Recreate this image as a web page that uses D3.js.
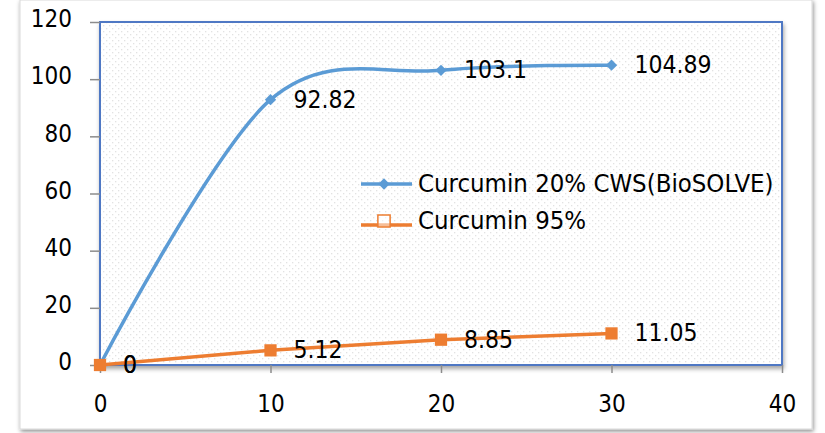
<!DOCTYPE html>
<html lang="en">
<head>
	<meta charset="UTF-8">
	<title>Curcumin chart</title>
	<script src="https://d3js.org/d3.v7.min.js"></script>
	<style>
		body{
			margin: 0;
			background-color: #ffffff;
		}
		text{
			font-family: "DejaVu Sans Condensed", "DejaVu Sans", sans-serif;
			font-stretch: condensed;
			fill: #000;
		}
		.axis path{
			display: none;
		}
		.axis line{
			stroke: #8c8c8c;
			stroke-width: 1.5;
		}
		.axis text{
			font-size: 24px;
		}
		.label{
			font-size: 24.5px;
		}
		.legend text{
			font-size: 25.5px;
		}
	</style>
</head>
<body>
<script type="text/javascript">
	// data
	var xValues = [0, 10, 20, 30];
	var curcuminCWS = [0, 92.82, 103.1, 104.89];
	var curcumin95 = [0, 5.12, 8.85, 11.05];
	var seriesNames = ['Curcumin 20% CWS(BioSOLVE)', 'Curcumin 95%'];
	var xTicks = [0, 10, 20, 30, 40];
	var yTicks = [0, 20, 40, 60, 80, 100, 120];

	var W = 825, H = 433;
	var margin = {top: 22, bottom: 68, left: 100, right: 43};
	var width = W - margin.left - margin.right,
		height = H - margin.top - margin.bottom;

	var svg = d3.select('body').append('svg')
		.attr('width', W)
		.attr('height', H);

	var defs = svg.append('defs');
	var f = defs.append('filter').attr('id', 'shadow')
		.attr('x', '-5%').attr('y', '-5%').attr('width', '110%').attr('height', '115%');
	f.append('feDropShadow').attr('dx', 1).attr('dy', 2).attr('stdDeviation', 2)
		.attr('flood-color', '#000').attr('flood-opacity', 0.45);
	var f2 = defs.append('filter').attr('id', 'shadow2')
		.attr('x', '-5%').attr('y', '-5%').attr('width', '110%').attr('height', '115%');
	f2.append('feDropShadow').attr('dx', 1).attr('dy', 3).attr('stdDeviation', 2)
		.attr('flood-color', '#000').attr('flood-opacity', 0.35);

	var pat = defs.append('pattern').attr('id', 'dots')
		.attr('patternUnits', 'userSpaceOnUse').attr('width', 6).attr('height', 6);
	pat.append('rect').attr('width', 6).attr('height', 6).attr('fill', '#fff');
	pat.append('rect').attr('x', 0).attr('y', 0).attr('width', 1.3).attr('height', 1.3).attr('fill', '#e2e2e2');
	pat.append('rect').attr('x', 3).attr('y', 3).attr('width', 1.3).attr('height', 1.3).attr('fill', '#e2e2e2');

	// chart frame
	svg.append('rect')
		.attr('x', 20).attr('y', 0)
		.attr('width', 792).attr('height', 429)
		.attr('fill', '#fff')
		.attr('stroke', '#d9d9d9')
		.attr('filter', 'url(#shadow)');

	var g = svg.append('g')
		.attr('transform', 'translate(' + margin.left + ',' + margin.top + ')');

	var x = d3.scaleLinear().domain([0, 40]).range([0, width]);
	var y = d3.scaleLinear().domain([0, 120]).range([height, 0]);

	// plot area
	g.append('rect')
		.attr('width', width).attr('height', height)
		.attr('fill', 'url(#dots)')
		.attr('stroke', '#4f78c4')
		.attr('stroke-width', 2)
		.attr('filter', 'url(#shadow2)');

	g.append('g')
		.attr('class', 'axis')
		.attr('transform', 'translate(0,' + height + ')')
		.call(d3.axisBottom(x).tickValues(xTicks).tickSize(8).tickPadding(22));
	g.append('g')
		.attr('class', 'axis')
		.call(d3.axisLeft(y).tickValues(yTicks).tickSize(10).tickPadding(18))
		.selectAll('text').attr('dy', '0.2em');

	// diamond = square turned 45deg
	var series = [
		{name: seriesNames[0], values: curcuminCWS, color: '#5b9bd5', size: 64, rot: 45, curve: d3.curveCardinal.tension(0)},
		{name: seriesNames[1], values: curcumin95, color: '#ed7d31', size: 150, rot: 0, curve: d3.curveLinear}
	];

	series.forEach(function (s, si) {
		var pts = xValues.map(function (xv, i) { return [xv, s.values[i]]; });
		var line = d3.line()
			.x(function (d) { return x(d[0]); })
			.y(function (d) { return y(d[1]); })
			.curve(s.curve);
		g.append('path')
			.datum(pts)
			.attr('d', line)
			.attr('fill', 'none')
			.attr('stroke', s.color)
			.attr('stroke-width', 3.5);
		g.selectAll('.m' + si)
			.data(pts)
			.enter().append('path')
			.attr('class', 'm' + si)
			.attr('transform', function (d) { return 'translate(' + x(d[0]) + ',' + y(d[1]) + ') rotate(' + s.rot + ')'; })
			.attr('d', d3.symbol().type(d3.symbolSquare).size(s.size))
			.attr('fill', s.color);
		g.selectAll('.l' + si)
			.data(pts)
			.enter().append('text')
			.attr('class', 'label')
			.attr('x', function (d) { return x(d[0]) + 23; })
			.attr('y', function (d) { return y(d[1]) + 8; })
			.text(function (d) { return d[1]; });
	});

	// legend
	var legend = g.append('g').attr('class', 'legend');
	series.forEach(function (s, i) {
		var ly = 162 + i * 37;
		var row = legend.append('g').attr('transform', 'translate(261,' + ly + ')');
		row.append('line')
			.attr('x1', 0).attr('x2', 51)
			.attr('y1', i === 0 ? 0 : 4).attr('y2', i === 0 ? 0 : 4)
			.attr('stroke', s.color).attr('stroke-width', 3.5);
		row.append('path')
			.attr('transform', 'translate(23,0) rotate(' + s.rot + ')')
			.attr('d', d3.symbol().type(d3.symbolSquare).size(s.size))
			.attr('fill', i === 0 ? s.color : 'rgba(255,255,255,0.5)')
			.attr('stroke', i === 0 ? 'none' : s.color)
			.attr('stroke-width', 1.5);
		row.append('text')
			.attr('x', 57).attr('y', 8)
			.text(s.name);
	});
</script>
</body>
</html>
